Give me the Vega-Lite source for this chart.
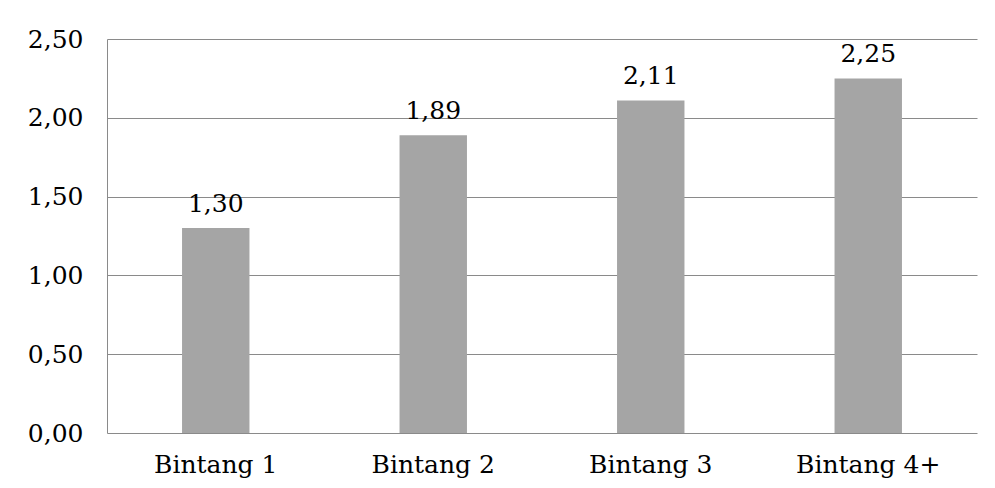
{
  "$schema": "https://vega.github.io/schema/vega-lite/v6.json",
  "width": 870,
  "height": 394,
  "autosize": "none",
  "padding": {"left": 107, "top": 39, "right": 18, "bottom": 55},
  "background": "white",
  "data": {
    "values": [
      {"kategori": "Bintang 1", "nilai": 1.30},
      {"kategori": "Bintang 2", "nilai": 1.89},
      {"kategori": "Bintang 3", "nilai": 2.11},
      {"kategori": "Bintang 4+", "nilai": 2.25}
    ]
  },
  "encoding": {
    "x": {
      "field": "kategori",
      "type": "nominal",
      "sort": null,
      "scale": {"paddingInner": 0, "paddingOuter": 0},
      "axis": {
        "title": null,
        "labelAngle": 0,
        "ticks": false,
        "domain": false,
        "labelPadding": 19,
        "labelFont": "DejaVu Serif",
        "labelFontSize": 25,
        "labelColor": "black"
      }
    },
    "y": {
      "field": "nilai",
      "type": "quantitative",
      "scale": {"domain": [0, 2.5], "nice": false},
      "axis": {
        "title": null,
        "values": [0, 0.5, 1, 1.5, 2, 2.5],
        "labelExpr": "replace(format(datum.value, '.2f'), '.', ',')",
        "ticks": false,
        "domain": true,
        "domainColor": "#8a8a8a",
        "gridColor": "#8a8a8a",
        "grid": true,
        "labelPadding": 24,
        "labelFont": "DejaVu Serif",
        "labelFontSize": 25,
        "labelColor": "black"
      }
    }
  },
  "layer": [
    {
      "mark": {"type": "bar", "color": "#a5a5a5", "width": {"band": 0.31}}
    },
    {
      "mark": {
        "type": "text",
        "dy": -16,
        "baseline": "alphabetic",
        "font": "DejaVu Serif",
        "fontSize": 25,
        "color": "black"
      },
      "encoding": {
        "text": {"field": "nilai", "type": "quantitative", "format": ".2f"}
      }
    }
  ],
  "config": {
    "view": {"stroke": null},
    "locale": {"number": {"decimal": ",", "thousands": ".", "grouping": [3], "currency": ["", ""]}}
  }
}
